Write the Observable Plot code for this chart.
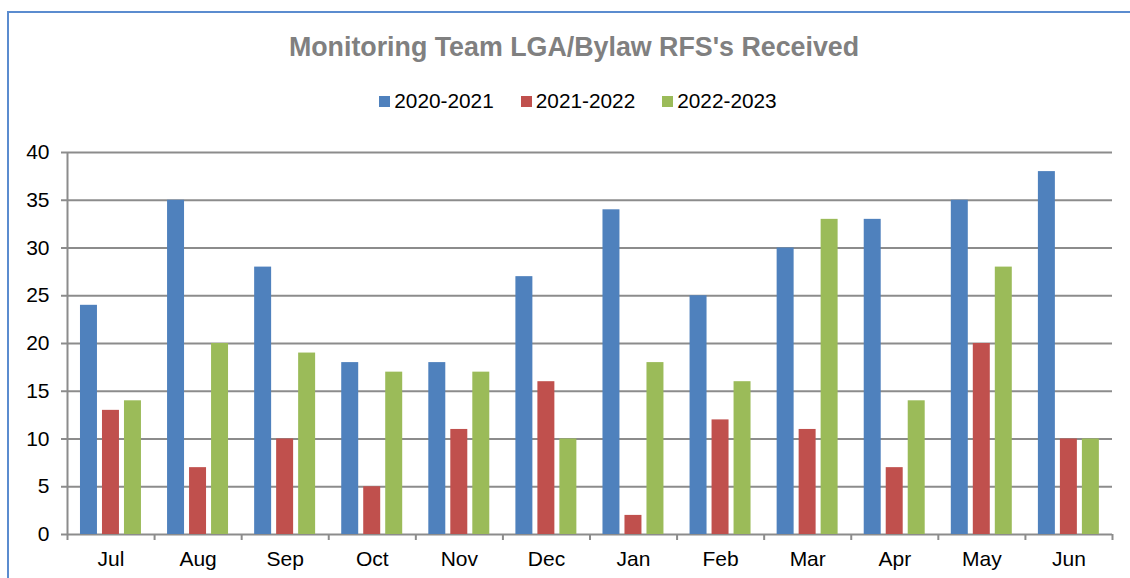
<!DOCTYPE html>
<html>
<head>
<meta charset="utf-8">
<script src="https://cdn.jsdelivr.net/npm/d3@7"></script>
<script src="https://cdn.jsdelivr.net/npm/@observablehq/plot@0.6"></script>
<style>
  body { margin: 0; background: #fff; font-family: "Liberation Sans", Arial, sans-serif; }
  #wrap { position: relative; width: 1130px; height: 578px; overflow: hidden; }
  #border { position: absolute; left: 7px; top: 11px; right: -5px; bottom: -5px;
            border-left: 2px solid #5b8ccf; border-top: 2px solid #5b8ccf; }
  #title { position: absolute; left: 0; width: 1148px; top: 31px; text-align: center;
           font-weight: bold; font-size: 26.8px; color: #808080; line-height: 32px; }
  #legend { position: absolute; left: 0; width: 1156px; top: 89px; display: flex;
            justify-content: center; gap: 27px; font-size: 20.8px; line-height: 24px; color: #000; }
  #legend .item { display: flex; align-items: center; gap: 4px; }
  #legend .sw { width: 11px; height: 11px; display: inline-block; }
  #chart { position: absolute; left: 0; top: 120px; }
</style>
</head>
<body>
<div id="wrap">
  <div id="border"></div>
  <div id="title"></div>
  <div id="legend"></div>
  <div id="chart"></div>
</div>
<script>
const title = "Monitoring Team LGA/Bylaw RFS's Received";
const months = ["Jul", "Aug", "Sep", "Oct", "Nov", "Dec", "Jan", "Feb", "Mar", "Apr", "May", "Jun"];
const seriesNames = ["2020-2021", "2021-2022", "2022-2023"];
const colors = ["#4f81bd", "#c0504d", "#9bbb59"];
const values2020_2021 = [24, 35, 28, 18, 18, 27, 34, 25, 30, 33, 35, 38];
const values2021_2022 = [13, 7, 10, 5, 11, 16, 2, 12, 11, 7, 20, 10];
const values2022_2023 = [14, 20, 19, 17, 17, 10, 18, 16, 33, 14, 28, 10];
const yTicks = [0, 5, 10, 15, 20, 25, 30, 35, 40];

// layout of a group of bars within one month slot (fractions of the slot)
const groupStart = 0.149, barWidth = 0.195, barStep = 0.2526;

const allSeries = [values2020_2021, values2021_2022, values2022_2023];
const rows = months.flatMap((m, i) => allSeries.map((vals, j) => ({
  month: m, i, j, series: seriesNames[j], value: vals[i]
})));

document.getElementById("title").textContent = title;
const legend = document.getElementById("legend");
seriesNames.forEach((s, k) => {
  const item = document.createElement("div");
  item.className = "item";
  const sw = document.createElement("span");
  sw.className = "sw";
  sw.style.background = colors[k];
  const t = document.createElement("span");
  t.textContent = s;
  item.appendChild(sw); item.appendChild(t);
  legend.appendChild(item);
});

const chart = Plot.plot({
  width: 1130,
  height: 458,
  marginLeft: 67,
  marginRight: 18,
  marginTop: 32,
  marginBottom: 44,
  style: { fontFamily: "'Liberation Sans', Arial, sans-serif", fontSize: "21px", color: "#000", background: "transparent" },
  x: { domain: [0, months.length], axis: null },
  y: { domain: [0, 40], axis: null },
  color: { domain: seriesNames, range: colors },
  marks: [
    Plot.ruleY(yTicks, { stroke: "#8c8c8c", strokeWidth: 2 }),
    Plot.rectY(rows, {
      x1: d => d.i + groupStart + d.j * barStep,
      x2: d => d.i + groupStart + d.j * barStep + barWidth,
      y: "value",
      fill: "series"
    }),
    Plot.ruleX([0], { stroke: "#8c8c8c", strokeWidth: 2 }),
    Plot.axisY(yTicks, { tickSize: 6, tickPadding: 12, stroke: "#8c8c8c", strokeWidth: 2, fontSize: 21, label: null }),
    Plot.axisX(d3.range(months.length + 1), { tickSize: 6, tickFormat: () => "", stroke: "#8c8c8c", strokeWidth: 2, label: null }),
    Plot.axisX(d3.range(months.length).map(i => i + 0.5), {
      tickSize: 0, tickPadding: 17, tickFormat: v => months[Math.floor(v)], fontSize: 21, label: null
    })
  ]
});
document.getElementById("chart").appendChild(chart);
</script>
</body>
</html>
